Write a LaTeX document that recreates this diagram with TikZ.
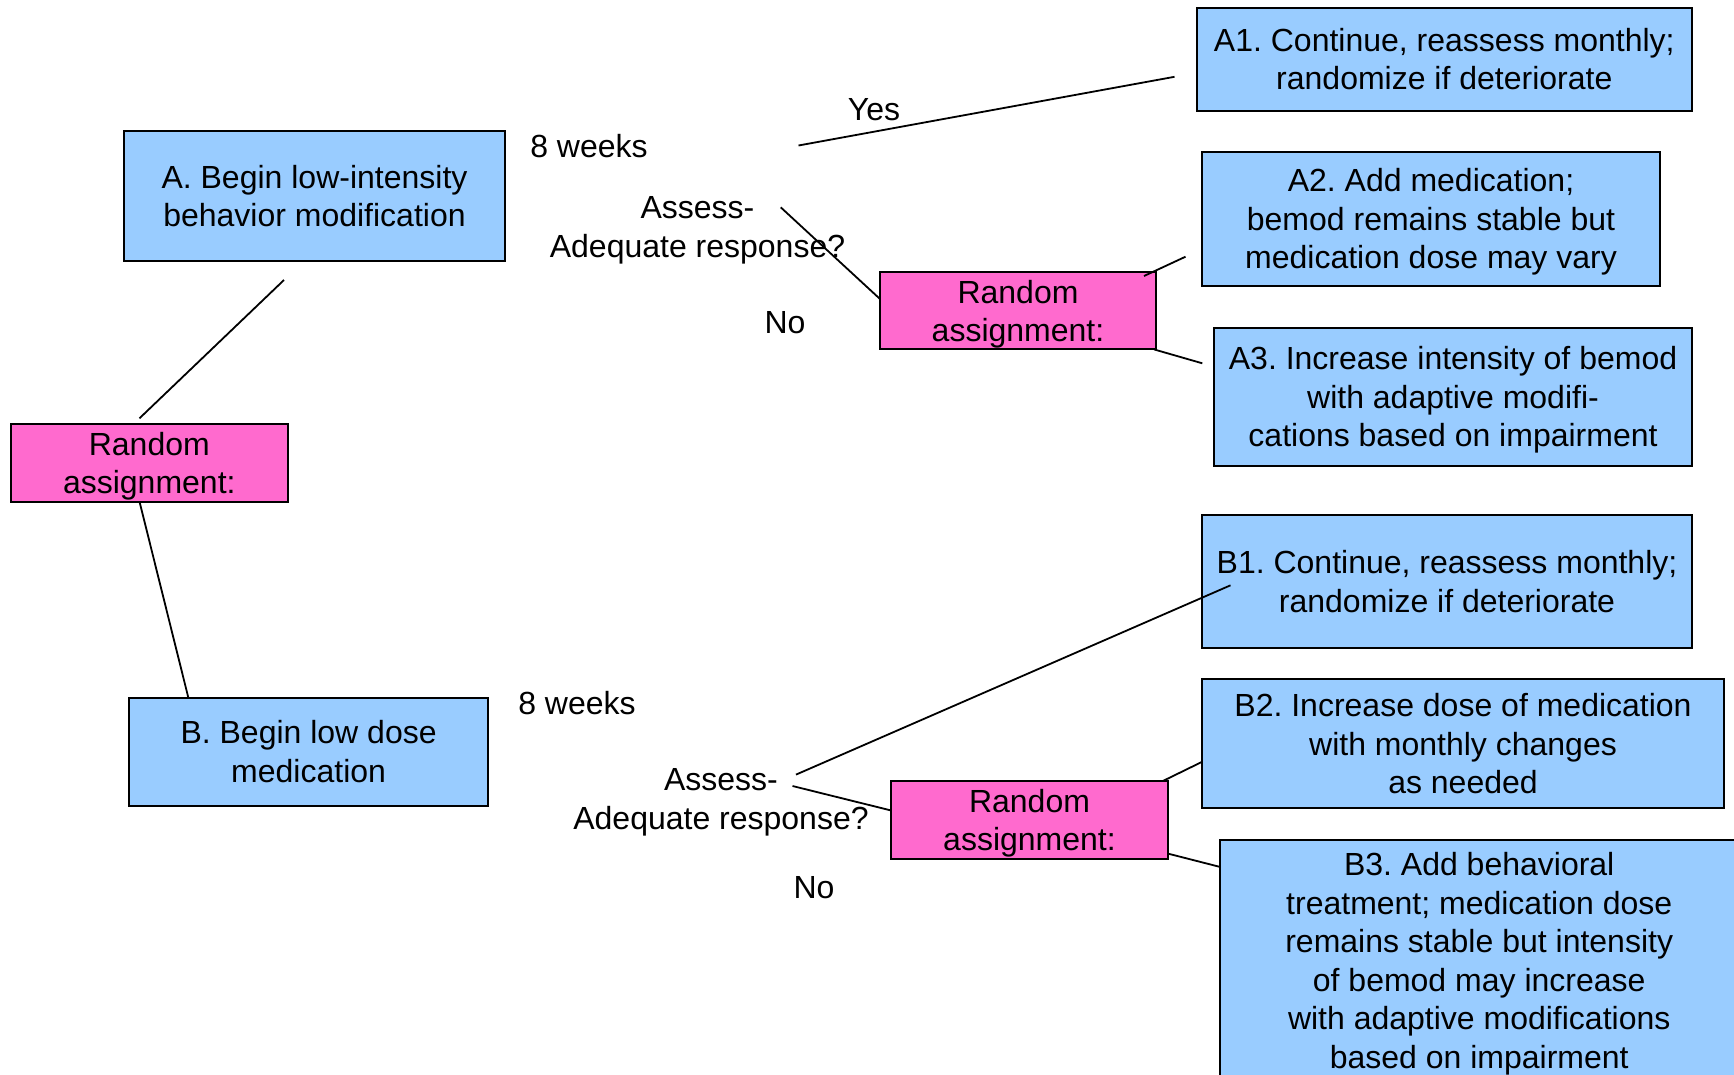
\documentclass[tikz,border=0pt]{standalone}
\usepackage{fontspec}
\setmainfont{Liberation Sans}
\frenchspacing
\definecolor{boxblue}{RGB}{153,204,255}
\definecolor{randpink}{RGB}{255,106,206}
\begin{document}
\begin{tikzpicture}[x=1pt,y=-1pt,
  treat/.style={rectangle, draw=black, line width=2pt, fill=boxblue, align=center,
    inner sep=0pt, outer sep=0pt, text depth=0pt, font=\fontsize{32}{38.5}\selectfont},
  rand/.style={treat, fill=randpink},
  lbl/.style={align=center, inner sep=0pt, font=\fontsize{32}{38.5}\selectfont},
  link/.style={line width=1.8pt}]
\clip (0,0) rectangle (1734,1074);
% first stage
\node [treat, minimum width=381pt, minimum height=130.5pt] (boxA) at (314.5,195.8) {A. Begin low-intensity\\behavior modification};
\node [rand, minimum width=276.5pt, minimum height=77.5pt] (randL) at (149.3,462.8) {Random\\assignment:};
\node [treat, minimum width=358.8pt, minimum height=108pt] (boxB) at (308.6,751.5) {B. Begin low dose\\medication};
% labels
\node [lbl] (wkA) at (589,146) {8 weeks};
\node [lbl] (assA) at (697.5,230.5) {Assess-\\Adequate response?};
\node [lbl] (yesA) at (874,110) {Yes};
\node [lbl] (noA) at (785,323) {No};
\node [lbl] (wkB) at (577,703) {8 weeks};
\node [lbl] (assB) at (721,802.5) {Assess-\\Adequate response?};
\node [lbl] (noB) at (814,888) {No};
% second stage
\node [rand, minimum width=276pt, minimum height=77.4pt] (randA) at (1018,310.7) {Random\\assignment:};
\node [rand, minimum width=276.5pt, minimum height=77.5pt] (randB) at (1029.5,819.8) {Random\\assignment:};
\node [treat, minimum width=495.3pt, minimum height=103.2pt] (boxA1) at (1444.3,59.1) {A1. Continue, reassess monthly;\\randomize if deteriorate};
\node [treat, minimum width=458pt, minimum height=134pt] (boxA2) at (1431,218.5) {A2. Add medication;\\bemod remains stable but\\medication dose may vary};
\node [treat, minimum width=478pt, minimum height=138.2pt] (boxA3) at (1453,396.6) {A3. Increase intensity of bemod\\with adaptive modifi-\\cations based on impairment};
\node [treat, minimum width=489.5pt, minimum height=133.5pt] (boxB1) at (1447,581.3) {B1. Continue, reassess monthly;\\randomize if deteriorate};
\node [treat, minimum width=521.4pt, minimum height=128.1pt] (boxB2) at (1463,743.5) {B2. Increase dose of medication\\with monthly changes\\as needed};
\node [treat, minimum width=517.7pt, minimum height=242pt] (boxB3) at (1479.2,960.5) {B3. Add behavioral\\treatment; medication dose\\remains stable but intensity\\of bemod may increase\\with adaptive modifications\\based on impairment};
% loose ends
\coordinate (aLow) at (284,280);
\coordinate (rlTop) at (139.5,418.3);
\coordinate (yesL) at (798.5,145.5);
\coordinate (yesR) at (1174.5,76.8);
\coordinate (noA0) at (780.7,207.3);
\coordinate (raIn) at (1144,276);
\coordinate (a2End) at (1185.5,256.7);
\coordinate (a3End) at (1202.3,363.3);
\coordinate (bYes0) at (796,774.6);
\coordinate (b1In) at (1230.5,585.3);
\coordinate (bNo0) at (792.5,786);
% connectors
\draw [link] (aLow) -- (rlTop);
\draw [link] ([xshift=-9.8pt]randL.south) -- ([xshift=-120.3pt]boxB.north);
\draw [link] (yesL) -- (yesR);
\draw [link] (noA0) -- ([yshift=11.7pt]randA.west);
\draw [link] (raIn) -- (a2End);
\draw [link] ([xshift=-2pt]randA.south east) -- (a3End);
\draw [link] (bYes0) -- (b1In);
\draw [link] (bNo0) -- ([yshift=9.3pt]randB.west);
\draw [link] ([xshift=-5pt]randB.north east) -- ([yshift=-18.2pt]boxB2.west);
\draw [link] ([yshift=5pt]randB.south east) -- ([yshift=93.5pt]boxB3.west);
\end{tikzpicture}
\end{document}
